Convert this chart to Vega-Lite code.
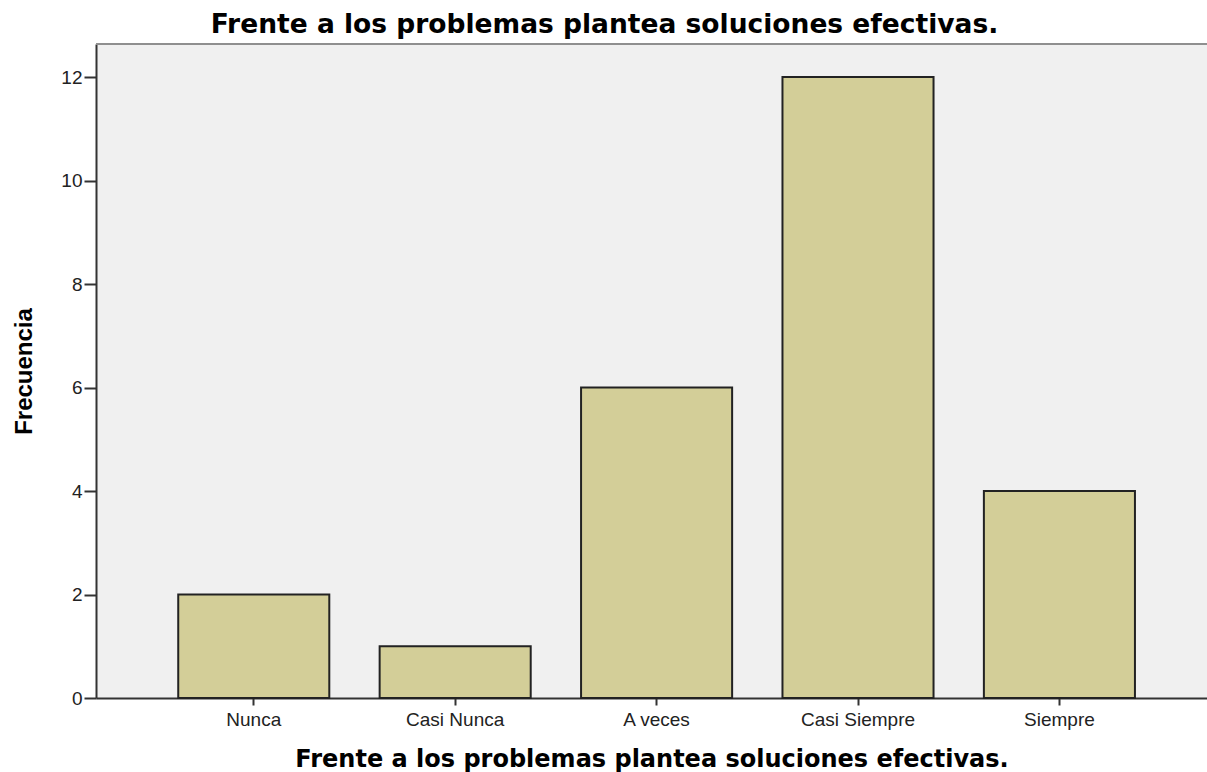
{
  "$schema": "https://vega.github.io/schema/vega-lite/v6.json",
  "autosize": {"type": "none"},
  "padding": {"left": 96, "top": 44, "right": 0, "bottom": 74},
  "width": 1111,
  "height": 654,
  "background": "#ffffff",
  "config": {
    "view": {"fill": "#f0f0f0", "stroke": null},
    "axis": {"grid": false, "zindex": 1}
  },
  "title": {
    "text": "Frente a los problemas plantea soluciones efectivas.",
    "font": "DejaVu Sans",
    "fontSize": 26.5,
    "fontWeight": "bold",
    "color": "#000000",
    "anchor": "middle",
    "frame": "group",
    "dx": -47,
    "dy": 28,
    "baseline": "alphabetic",
    "offset": 12
  },
  "data": {
    "values": [
      {"respuesta": "Nunca", "frecuencia": 2},
      {"respuesta": "Casi Nunca", "frecuencia": 1},
      {"respuesta": "A veces", "frecuencia": 6},
      {"respuesta": "Casi Siempre", "frecuencia": 12},
      {"respuesta": "Siempre", "frecuencia": 4}
    ]
  },
  "layer": [
    {
      "mark": {"type": "bar", "fill": "#d3ce98", "stroke": "#222222", "strokeWidth": 2},
      "encoding": {
        "x": {
          "field": "respuesta",
          "type": "nominal",
          "sort": ["Nunca", "Casi Nunca", "A veces", "Casi Siempre", "Siempre"],
          "scale": {"paddingInner": 0.25, "paddingOuter": 0.383, "align": 0.533},
          "axis": {
            "title": "Frente a los problemas plantea soluciones efectivas.",
            "titleFont": "DejaVu Sans",
            "titleFontSize": 24,
            "titleFontWeight": "bold",
            "titleColor": "#000000",
            "titlePadding": 18,
            "labelAngle": 0,
            "labelFont": "Liberation Sans",
            "labelFontSize": 19,
            "labelColor": "#222222",
            "labelPadding": 5,
            "tickSize": 7,
            "tickWidth": 2,
            "tickColor": "#333333",
            "domainColor": "#333333",
            "domainWidth": 2
          }
        },
        "y": {
          "field": "frecuencia",
          "type": "quantitative",
          "scale": {"domain": [0, 12.64], "nice": false, "zero": true},
          "axis": {
            "title": "Frecuencia",
            "titleFont": "Liberation Sans",
            "titleFontSize": 24,
            "titleFontWeight": "bold",
            "titleColor": "#000000",
            "titlePadding": 24,
            "values": [0, 2, 4, 6, 8, 10, 12],
            "labelFont": "Liberation Sans",
            "labelFontSize": 19,
            "labelColor": "#222222",
            "labelPadding": 2,
            "tickSize": 12,
            "tickWidth": 2,
            "tickColor": "#333333",
            "domainColor": "#333333",
            "domainWidth": 2
          }
        }
      }
    },
    {
      "mark": {"type": "rule", "color": "#8f8f8f", "strokeWidth": 2},
      "encoding": {
        "y": {"datum": 12.64, "type": "quantitative"}
      }
    }
  ]
}
